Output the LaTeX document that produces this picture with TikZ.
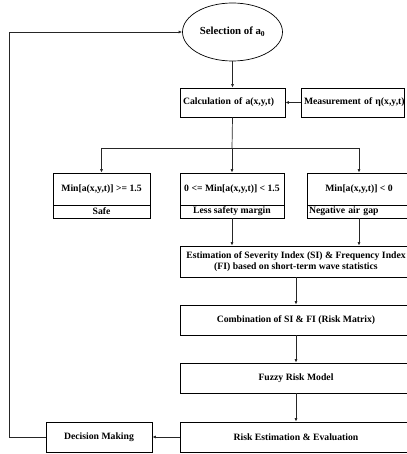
\documentclass[tikz,border=0pt]{standalone}
\usepackage{fontspec}
\setmainfont{Liberation Serif}
\usetikzlibrary{arrows.meta,shapes.geometric}
\begin{document}
\begin{tikzpicture}[x=1pt,y=-1pt,
  box/.style={draw,line width=0.7pt,inner sep=0pt,font=\bfseries\fontsize{9.7}{11}\selectfont},
  conn/.style={line width=0.7pt,black!85},
  arr/.style={conn,-{Latex[length=3.5pt,width=3pt]}}]
\useasboundingbox (0,0) rectangle (406,454);
% top
\node[box,ellipse,minimum width=100pt,minimum height=58pt,font=\bfseries\fontsize{10.8}{12}\selectfont] (sel) at (232.5,32) {Selection of a\textsubscript{0}};
\node[box,minimum width=105pt,minimum height=29pt,text width=99pt,align=left] (calc) at (232.5,102.5) {Calculation of a(x,y,t)};
\node[box,minimum width=103pt,minimum height=29pt,text width=97pt,align=left] (meas) at (352.5,102.5) {\mbox{Measurement of η(x,y,t)}};
% three cases
\node[box,minimum width=97pt,minimum height=32pt] (safeT) at (101.5,189) {Min[a(x,y,t)] >= 1.5};
\node[box,minimum width=97pt,minimum height=13pt] (safeB) at (101.5,211.5) {Safe};
\node[box,minimum width=104pt,minimum height=32pt] (midT) at (232,189) {0 <= Min[a(x,y,t)] < 1.5};
\node[box,minimum width=104pt,minimum height=13pt] (midB) at (232,211.5) {Less safety margin};
\node[box,minimum width=104pt,minimum height=32pt] (negT) at (359,189) {Min[a(x,y,t)] < 0};
\node[box,minimum width=104pt,minimum height=13pt,text width=100pt,align=left] (negB) at (359,211.5) {Negative air gap};
% lower chain
\node[box,minimum width=232pt,minimum height=31pt,align=center] (est) at (296,261.5) {Estimation of Severity Index (SI) \& Frequency Index\\(FI) based on short-term wave statistics};
\node[box,minimum width=232pt,minimum height=30pt] (comb) at (296,320) {Combination of SI \& FI (Risk Matrix)};
\node[box,minimum width=232pt,minimum height=30pt] (fuzzy) at (296,378) {Fuzzy Risk Model};
\node[box,minimum width=232pt,minimum height=30pt] (risk) at (296,437) {Risk Estimation \& Evaluation};
\node[box,minimum width=106pt,minimum height=30pt] (dec) at (99,437) {Decision Making};
% connectors
\draw[arr] (sel) -- (calc);
\draw[arr] (meas) -- (calc);
\coordinate (bl) at (101.5,148);
\coordinate (bm) at (232,148);
\coordinate (br) at (359,148);
\draw[conn] (calc.south) -- (bm);
\draw[conn] (bl) -- (br);
\draw[arr] (bl) -- (safeT);
\draw[arr] (bm) -- (midT);
\draw[arr] (br) -- (negT);
\draw[arr] (midB.south) -- (midB.south |- est.north);
\draw[arr] (negB.south) -- (negB.south |- est.north);
\draw[arr] (est) -- (comb);
\draw[arr] (comb) -- (fuzzy);
\draw[arr] (fuzzy) -- (risk);
\draw[arr] (risk) -- (dec);
\coordinate (lb) at (9,437);
\coordinate (lt) at (9,32);
\draw[arr] (dec.west) -- (lb) -- (lt) -- (sel.west);
\end{tikzpicture}
\end{document}
